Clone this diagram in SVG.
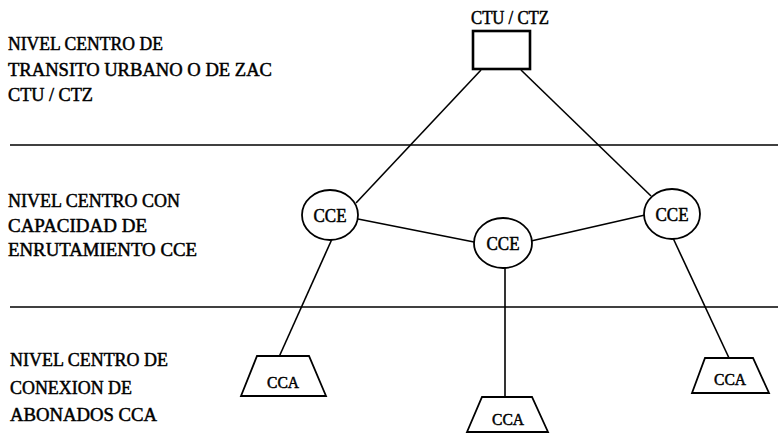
<svg xmlns="http://www.w3.org/2000/svg" width="778" height="435" viewBox="0 0 778 435">
  <defs>
    <style>
      .bg { fill: #ffffff; }
      .sep { stroke: #000; stroke-width: 1.6; fill: none; }
      .edge { stroke: #000; stroke-width: 1.6; fill: none; }
      .shape { stroke: #000; stroke-width: 1.8; fill: #ffffff; }
      .box { stroke: #000; stroke-width: 2.6; fill: #ffffff; }
      text { font-family: Liberation Serif, serif; fill: #000; stroke: #000; stroke-width: 0.5; }
      .lbl { font-size: 19px; }
      .node { font-size: 18px; text-anchor: middle; }
      .small { font-size: 16px; }
    </style>
  </defs>

  <rect class="bg" x="0" y="0" width="778" height="435"/>

  <!-- level separators -->
  <g id="separators">
    <line class="sep" x1="10" y1="145" x2="778" y2="145"/>
    <line class="sep" x1="10" y1="307" x2="778" y2="307"/>
  </g>

  <!-- level descriptions -->
  <g id="level-labels">
    <text class="lbl" x="8" y="50" textLength="155" lengthAdjust="spacingAndGlyphs">NIVEL CENTRO DE</text>
    <text class="lbl" x="8" y="76" textLength="264" lengthAdjust="spacingAndGlyphs">TRANSITO URBANO O DE ZAC</text>
    <text class="lbl" x="8" y="101" textLength="85" lengthAdjust="spacingAndGlyphs">CTU / CTZ</text>

    <text class="lbl" x="8" y="207" textLength="172" lengthAdjust="spacingAndGlyphs">NIVEL CENTRO CON</text>
    <text class="lbl" x="8" y="232" textLength="139" lengthAdjust="spacingAndGlyphs">CAPACIDAD DE</text>
    <text class="lbl" x="8" y="256" textLength="189" lengthAdjust="spacingAndGlyphs">ENRUTAMIENTO CCE</text>

    <text class="lbl" x="10" y="366" textLength="158" lengthAdjust="spacingAndGlyphs">NIVEL CENTRO DE</text>
    <text class="lbl" x="10" y="394" textLength="122" lengthAdjust="spacingAndGlyphs">CONEXION DE</text>
    <text class="lbl" x="10" y="421" textLength="147" lengthAdjust="spacingAndGlyphs">ABONADOS CCA</text>
  </g>

  <!-- connectors -->
  <g id="connectors">
    <line class="edge" x1="481" y1="70" x2="356" y2="203"/>
    <line class="edge" x1="521" y1="70" x2="651" y2="196"/>
    <line class="edge" x1="358" y1="219" x2="474" y2="242"/>
    <line class="edge" x1="531" y1="241" x2="645" y2="215"/>
    <line class="edge" x1="332" y1="239" x2="279" y2="357"/>
    <line class="edge" x1="505" y1="268" x2="505" y2="397"/>
    <line class="edge" x1="673" y1="238" x2="729" y2="358"/>
  </g>

  <!-- CTU / CTZ transit centre -->
  <g id="ctu-ctz">
    <text class="node" x="510" y="24" textLength="78" lengthAdjust="spacingAndGlyphs">CTU / CTZ</text>
    <rect class="box" x="473" y="31" width="57" height="38"/>
  </g>

  <!-- routing centres -->
  <g id="cce-left">
    <ellipse class="shape" cx="330" cy="215" rx="28" ry="25"/>
    <text class="node" x="330" y="222" textLength="33" lengthAdjust="spacingAndGlyphs">CCE</text>
  </g>
  <g id="cce-middle">
    <ellipse class="shape" cx="503" cy="243" rx="29" ry="25"/>
    <text class="node" x="503" y="250" textLength="33" lengthAdjust="spacingAndGlyphs">CCE</text>
  </g>
  <g id="cce-right">
    <ellipse class="shape" cx="672" cy="214" rx="28" ry="25"/>
    <text class="node" x="672" y="221" textLength="33" lengthAdjust="spacingAndGlyphs">CCE</text>
  </g>

  <!-- subscriber connection centres -->
  <g id="cca-left">
    <polygon class="shape" points="257,356 309,356 326,396 241,396"/>
    <text class="node small" x="283" y="388" textLength="32" lengthAdjust="spacingAndGlyphs">CCA</text>
  </g>
  <g id="cca-middle">
    <polygon class="shape" points="482,397 532,397 548,432 467,432"/>
    <text class="node small" x="508" y="425" textLength="32" lengthAdjust="spacingAndGlyphs">CCA</text>
  </g>
  <g id="cca-right">
    <polygon class="shape" points="705,358 753,358 769,393 692,393"/>
    <text class="node small" x="730" y="385" textLength="32" lengthAdjust="spacingAndGlyphs">CCA</text>
  </g>
</svg>
